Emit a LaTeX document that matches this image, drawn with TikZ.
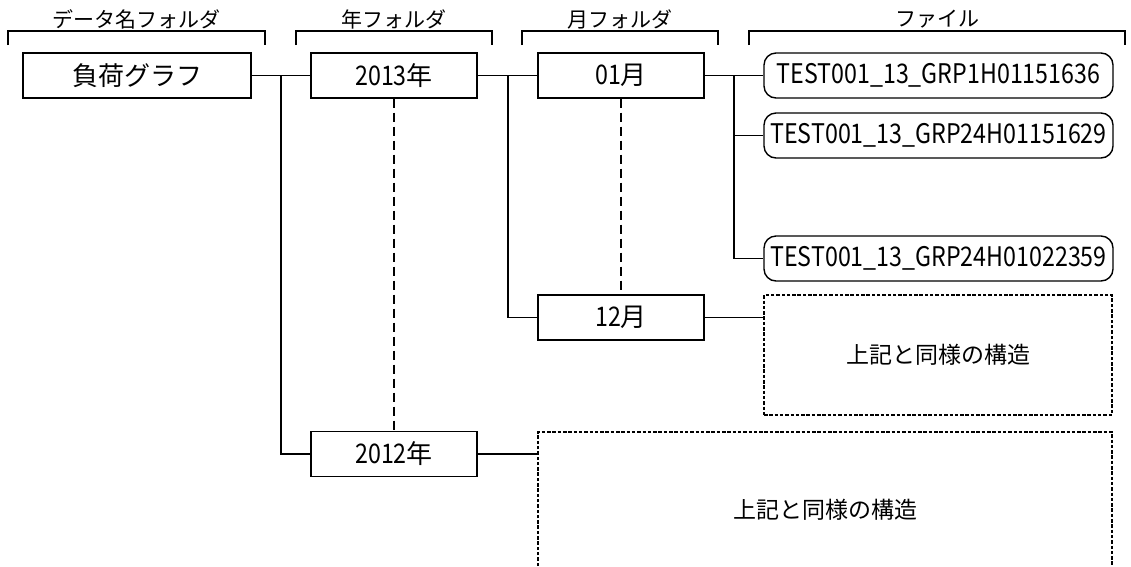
\documentclass[tikz,border=0pt]{standalone}
\usepackage{fontspec}
\setmainfont{Noto Sans CJK JP}
\newfontfamily\narrowlat[FakeStretch=0.86]{Noto Sans CJK JP}
\begin{document}
\begin{tikzpicture}[x=1pt,y=-1pt,
  box/.style={draw, line width=1.4pt, minimum height=45pt, inner sep=0pt, font=\fontsize{26}{26}\selectfont},
  filebox/.style={box, rounded corners=12pt, minimum width=349pt, font=\fontsize{27}{27}\narrowlat},
  dbox/.style={draw, line width=1.3pt, dash pattern=on 3.5pt off 1.8pt},
  dline/.style={line width=1.3pt, dash pattern=on 9pt off 5pt},
  head/.style={font=\fontsize{21}{21}\selectfont, inner sep=0pt},
  note/.style={font=\fontsize{23}{23}\selectfont, inner sep=0pt},
  link/.style={line width=1.5pt}]
\useasboundingbox (0,0) rectangle (1131,566);
% headers
\node[head] (h1) at (136.5,19) {データ名フォルダ};
\node[head] (h2) at (394,19) {年フォルダ};
\node[head] (h3) at (620,19) {月フォルダ};
\node[head] (h4) at (937,19) {ファイル};
\draw[link] (8,45) |- (265,31) -- (265,45);
\draw[link] (296,45) |- (492,31) -- (492,45);
\draw[link] (522,45) |- (718,31) -- (718,45);
\draw[link] (749,45) |- (1125,31) -- (1125,45);
% nodes
\node[box, minimum width=228pt] (g) at (137,75.5) {負荷グラフ};
\node[box, minimum width=166pt] (y13) at (394,75.5) {{\fontsize{27}{27}\narrowlat 2013}年};
\node[box, minimum width=166pt] (y12) at (394,454) {{\fontsize{27}{27}\narrowlat 2012}年};
\node[box, minimum width=166pt] (m01) at (621,75.5) {{\fontsize{27}{27}\narrowlat 01}月};
\node[box, minimum width=166pt] (m12) at (621,317.5) {{\fontsize{27}{27}\narrowlat 12}月};
\node[filebox] (f1) at (938.5,75.5) {TEST001\_13\_GRP1H01151636};
\node[filebox] (f2) at (938.5,135.5) {TEST001\_13\_GRP24H01151629};
\node[filebox] (f3) at (938.5,258.5) {TEST001\_13\_GRP24H01022359};
\node[dbox, note, minimum width=348pt, minimum height=120pt] (d1) at (938,355) {上記と同様の構造};
\node[note] (d2) at (825,510) {上記と同様の構造};
\coordinate (d2nw) at (538,432);
\coordinate (d2ne) at (1112,432);
\coordinate (bot) at (0,566);
\draw[dbox] (d2nw |- bot) -- (d2nw) -- (d2ne) -- (d2ne |- bot);
% junctions
\coordinate (j1) at (281,75.5);
\coordinate (j2) at (508,75.5);
\coordinate (j3) at (734,75.5);
\draw[link] (g.east) -- (y13.west);
\draw[link] (j1) |- (y12.west);
\draw[link] (y13.east) -- (m01.west);
\draw[link] (j2) |- (m12.west);
\draw[link] (m01.east) -- (f1.west);
\draw[link] (j3) |- (f2.west);
\draw[link] (j3) |- (f3.west);
\draw[link] (m12.east) -- (m12.east -| d1.west);
\draw[link] (y12.east) -- (y12.east -| d2nw);
\draw[dline] (y13.south) -- (y12.north);
\draw[dline] (m01.south) -- (m12.north);
\end{tikzpicture}
\end{document}
